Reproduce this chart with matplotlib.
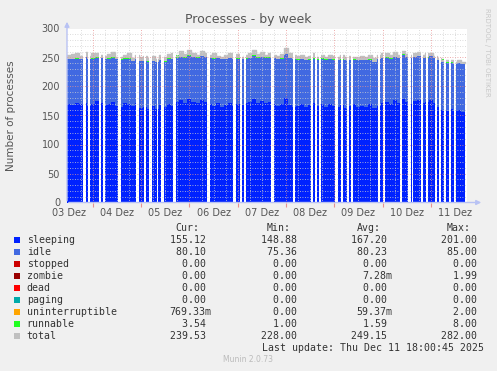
import matplotlib
matplotlib.use("Agg")
import matplotlib.pyplot as plt
import numpy as np
from matplotlib.patches import Rectangle

# hours since 03 Dez 00:00, one sample every 2 hours
hours = list(range(11, 211, 2))

sleeping = [170, 168, 172, 169, 171, 166, 170, 175, 172, 168,
            170, 174, 167, 165, 171, 169, 166, 172, 163, 165,
            161, 166, 162, 168, 164, 170, 167, 173, 176, 172,
            178, 174, 171, 176, 173, 169, 167, 171, 165, 168,
            172, 166, 170, 168, 171, 174, 178, 172, 175, 171,
            173, 169, 166, 170, 180, 168, 164, 167, 170, 165,
            168, 172, 166, 169, 164, 170, 167, 165, 168, 163,
            166, 170, 164, 167, 165, 169, 163, 166, 172, 174,
            170, 176, 172, 179, 173, 170, 175, 177, 172, 174,
            176, 171, 165, 160, 158, 162, 157, 160, 156, 155]

idle = [77, 79, 76, 78, 80, 81, 78, 75, 77, 79,
        78, 76, 80, 81, 77, 79, 78, 76, 81, 79,
        82, 78, 80, 77, 79, 78, 80, 77, 75, 78,
        75, 77, 79, 76, 78, 80, 81, 78, 82, 79,
        77, 81, 78, 79, 77, 75, 75, 78, 76, 79,
        77, 80, 81, 78, 76, 81, 83, 79, 77, 80,
        78, 76, 80, 79, 82, 77, 79, 80, 78, 82,
        79, 76, 81, 78, 80, 77, 79, 81, 77, 76,
        78, 75, 77, 76, 78, 79, 76, 75, 77, 76,
        76, 78, 80, 82, 83, 79, 82, 80, 83, 80]

runnable = [1.4, 1.6, 1.5, 1.3, 1.8, 1.5, 1.4, 1.7, 1.5, 1.3,
            1.6, 1.5, 1.4, 1.8, 1.5, 1.6, 1.3, 1.5, 1.7, 1.4,
            1.5, 1.6, 1.4, 1.5, 1.8, 1.5, 1.4, 4.0, 1.6, 1.5,
            1.4, 1.7, 1.5, 1.6, 1.4, 1.5, 1.8, 1.5, 1.4, 1.6,
            1.5, 1.3, 1.6, 1.5, 1.7, 1.4, 1.5, 1.6, 1.5, 1.4,
            1.8, 1.5, 1.6, 1.4, 1.5, 1.7, 1.5, 1.4, 1.6, 1.5,
            1.3, 1.5, 1.6, 1.4, 1.7, 1.5, 1.5, 1.6, 1.4, 1.5,
            1.8, 1.5, 1.4, 1.6, 1.5, 1.7, 1.4, 1.5, 1.6, 1.5,
            1.4, 1.6, 1.5, 1.8, 1.5, 1.4, 1.6, 1.5, 1.7, 1.5,
            1.4, 1.6, 2.5, 5.0, 3.0, 1.8, 1.6, 2.2, 2.8, 3.5]

total = [254, 256, 258, 252, 260, 253, 257, 258, 255, 252,
         256, 259, 251, 250, 254, 257, 249, 255, 250, 252,
         249, 253, 247, 254, 250, 256, 257, 252, 262, 256,
         263, 258, 255, 261, 257, 254, 257, 253, 251, 255,
         257, 252, 256, 251, 254, 258, 263, 256, 260, 255,
         258, 254, 252, 256, 267, 257, 254, 252, 254, 251,
         253, 257, 251, 255, 251, 254, 252, 250, 254, 250,
         253, 251, 250, 253, 251, 254, 249, 254, 257, 258,
         255, 259, 255, 262, 256, 254, 258, 259, 254, 257,
         258, 253, 249, 245, 246, 245, 243, 245, 243, 240]

# periods with no data (start hour, end hour)
gaps = [(19.2, 20.4), (21.4, 22.5), (27.0, 27.8), (28.8, 29.8), (36.6, 37.8),
        (45.4, 46.9), (49.4, 50.2), (51.9, 53.2), (55.7, 56.5), (58.0, 59.3),
        (63.9, 65.1), (80.5, 82.2), (93.8, 95.0), (97.3, 98.1), (99.3, 100.3),
        (112.5, 114.0), (123.7, 124.7), (132.4, 133.4), (134.4, 135.4), (136.4, 137.3),
        (144.5, 145.8), (147.5, 148.5), (150.3, 151.3), (152.5, 153.3), (165.7, 166.7),
        (168.4, 169.4), (176.9, 177.9), (180.8, 182.1), (182.6, 183.3), (187.3, 188.3),
        (189.8, 190.8), (194.0, 195.0), (196.2, 197.0), (198.7, 199.7), (201.2, 202.2),
        (203.7, 204.7)]

day_labels = ["03 Dez", "04 Dez", "05 Dez", "06 Dez", "07 Dez",
              "08 Dez", "09 Dez", "10 Dez", "11 Dez"]

legend_rows = [
    ("sleeping", "#0022ff", "155.12 ", "148.88 ", "167.20 ", "201.00 "),
    ("idle", "#4169e1", "80.10 ", "75.36 ", "80.23 ", "85.00 "),
    ("stopped", "#cc0000", "0.00 ", "0.00 ", "0.00 ", "0.00 "),
    ("zombie", "#990000", "0.00 ", "0.00 ", "7.28m", "1.99 "),
    ("dead", "#ff0000", "0.00 ", "0.00 ", "0.00 ", "0.00 "),
    ("paging", "#00aaaa", "0.00 ", "0.00 ", "0.00 ", "0.00 "),
    ("uninterruptible", "#ffa500", "769.33m", "0.00 ", "59.37m", "2.00 "),
    ("runnable", "#22ff22", "3.54 ", "1.00 ", "1.59 ", "8.00 "),
    ("total", "#c0c0c0", "239.53 ", "228.00 ", "249.15 ", "282.00 "),
]

W, H = 497, 371
fig = plt.figure(figsize=(W / 100, H / 100), dpi=100, facecolor="#f0f0f0")
ax = fig.add_axes([67 / W, 1 - 202.5 / H, 400 / W, 174 / H])
ax.set_facecolor("white")

t = np.array(hours)
s = np.array(sleeping)
i_ = s + np.array(idle)
r = i_ + np.array(runnable)
tot = np.array(total)

ax.fill_between(t, 0, s, step="post", color="#0022ff", lw=0, zorder=2)
ax.fill_between(t, s, i_, step="post", color="#4169e1", lw=0, zorder=2)
ax.fill_between(t, i_, r, step="post", color="#22ff22", lw=0, zorder=2)
# total line drawn over the stack top, as rrdtool does
ax.fill_between(t, i_ + 0.6, tot, where=tot > i_, step="post", color="#c0c0c0",
                lw=0, zorder=2.3)
ax.step(t, tot, where="post", color="#c0c0c0", lw=1.0, zorder=2.5)

for a, b in gaps:
    ax.axvspan(a, b, color="white", lw=0, zorder=3)

ax.set_xlim(11.1, 210)
ax.set_ylim(0, 300)

dot = (0, (1, 2))
for v in range(10, 300, 10):
    if v % 50:
        ax.axhline(v, color="#d0d0d0", lw=0.6, ls=dot, zorder=4)
for v in range(50, 301, 50):
    ax.axhline(v, color="#e89090", lw=0.6, ls=dot, zorder=4)
for h in range(18, 210, 6):
    ax.axvline(h, color="#e89090" if h % 24 == 0 else "#d0d0d0", lw=0.6, ls=dot, zorder=4)

for sp in ax.spines.values():
    sp.set_visible(False)

ax.set_xticks(range(24, 210, 24))
ax.set_xticklabels([])
ax.tick_params(axis="x", which="major", length=3, color="#e89090", width=0.8)
ax.set_xticks(range(12, 210, 24), minor=True)
ax.set_xticklabels(day_labels, minor=True)
ax.tick_params(axis="x", which="minor", length=0, pad=4, labelsize=7, labelcolor="#555555")
ax.set_yticks(range(0, 301, 50))
ax.tick_params(axis="y", length=0, pad=5, labelsize=7, labelcolor="#555555")

axis_col = "#b8c2f4"
ax.annotate("", xy=(484, H - 202.5), xytext=(66, H - 202.5), xycoords="figure pixels",
            arrowprops=dict(arrowstyle="-|>", color=axis_col, lw=1, mutation_scale=7))
ax.annotate("", xy=(67, H - 19), xytext=(67, H - 203.5), xycoords="figure pixels",
            arrowprops=dict(arrowstyle="-|>", color=axis_col, lw=1, mutation_scale=7))

fig.text(248 / W, 1 - 19 / H, "Processes - by week", ha="center", va="center",
         fontsize=9, color="#555555")
fig.text(11 / W, 1 - 115.5 / H, "Number of processes", ha="center", va="center",
         rotation=90, fontsize=7.5, color="#555555")
fig.text(487 / W, 1 - 52 / H, "RRDTOOL / TOBI OETIKER", ha="center", va="center",
         rotation=270, fontsize=5, color="#c8c8c8")

mono = dict(family="DejaVu Sans Mono", fontsize=7.1, color="#333333", va="center")
hy = 1 - 228.3 / H
for x, lab in [(175.7, "Cur:"), (266.7, "Min:"), (357, "Avg:"), (446.7, "Max:")]:
    fig.text(x / W, hy, lab, ha="left", **mono)

col_right = [211.6, 302.6, 392.6, 482.6]
for k, (name, col, cur, mn, avg, mx) in enumerate(legend_rows):
    y = 239.7 + 12 * k
    fig.patches.append(Rectangle((14 / W, 1 - (y + 3) / H), 6 / W, 6 / H,
                                 transform=fig.transFigure, color=col, lw=0))
    fig.text(26.7 / W, 1 - y / H, name, ha="left", **mono)
    for xr, val in zip(col_right, [cur, mn, avg, mx]):
        fig.text(xr / W, 1 - y / H, val, ha="right", **mono)

fig.text(261.7 / W, 1 - 347.7 / H, "Last update: Thu Dec 11 18:00:45 2025", ha="left", **mono)
fig.text(248 / W, 1 - 360 / H, "Munin 2.0.73", ha="center", va="center",
         fontsize=5.5, color="#bbbbbb")

fig.savefig("out.png", dpi=100, facecolor=fig.get_facecolor())
